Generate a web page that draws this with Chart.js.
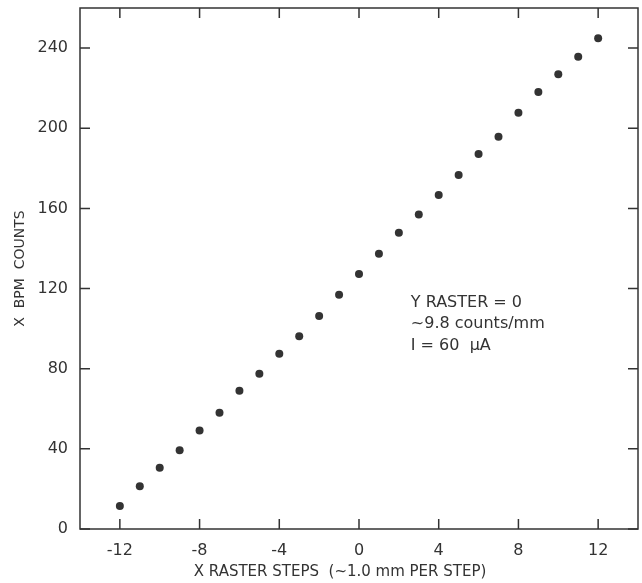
<!DOCTYPE html>
<html>
<head>
<meta charset="utf-8">
<script src="https://cdn.jsdelivr.net/npm/chart.js@4.4.1/dist/chart.umd.min.js"></script>
<style>
  html, body { margin: 0; padding: 0; background: #fff; }
  #wrap { width: 642px; height: 583px; position: relative; }
</style>
</head>
<body>
<div id="wrap"><canvas id="c" width="642" height="583"></canvas></div>
<script>
// ---- data ----
const xSteps = [-12,-11,-10,-9,-8,-7,-6,-5,-4,-3,-2,-1,0,1,2,3,4,5,6,7,8,9,10,11,12];
const bpmCounts = [11.5,21.3,30.6,39.3,49.1,58.0,69.0,77.5,87.5,96.2,106.3,116.9,127.2,137.4,147.9,157.0,166.7,176.6,187.1,195.8,207.7,218.1,227.0,235.7,244.9];
const xTickValues = [-12,-8,-4,0,4,8,12];
const yTickValues = [0,40,80,120,160,200,240];
const annotationLines = ["Y RASTER = 0", "~9.8 counts/mm", "I = 60  \u03BCA"];
const xTitle = "X RASTER STEPS  (~1.0 mm PER STEP)";
const yTitle = "X  BPM  COUNTS";

const INK = '#333333';
const FONT = "'DejaVu Sans', sans-serif";

const frameTicks = {
  id: 'frameTicks',
  afterDraw(chart) {
    const { ctx, chartArea: a, scales } = chart;
    const xs = scales.x, ys = scales.y;
    ctx.save();
    ctx.strokeStyle = INK;
    ctx.lineWidth = 1.5;
    ctx.strokeRect(a.left, a.top, a.right - a.left, a.bottom - a.top);
    const L = 10;
    ctx.beginPath();
    xTickValues.forEach(v => {
      const px = xs.getPixelForValue(v);
      ctx.moveTo(px, a.bottom); ctx.lineTo(px, a.bottom - L);
      ctx.moveTo(px, a.top); ctx.lineTo(px, a.top + L);
    });
    yTickValues.forEach(v => {
      const py = ys.getPixelForValue(v);
      ctx.moveTo(a.left, py); ctx.lineTo(a.left + L, py);
      ctx.moveTo(a.right, py); ctx.lineTo(a.right - L, py);
    });
    ctx.stroke();
    ctx.fillStyle = INK;
    // x axis title (slightly left of centre, as in the original)
    ctx.font = "15px " + FONT;
    ctx.textAlign = 'center';
    ctx.textBaseline = 'middle';
    ctx.fillText(xTitle, xs.getPixelForValue(-0.95), xs.bottom - 11);
    // annotation
    ctx.font = "16px " + FONT;
    ctx.textAlign = 'left';
    const ax = xs.getPixelForValue(2.6);
    const ay = ys.getPixelForValue(113);
    annotationLines.forEach((t, i) => ctx.fillText(t, ax, ay + i * 21.5));
    ctx.restore();
  }
};

new Chart(document.getElementById('c'), {
  type: 'scatter',
  data: {
    datasets: [{
      data: xSteps.map((x, i) => ({ x, y: bpmCounts[i] })),
      backgroundColor: INK,
      borderColor: INK,
      pointRadius: 4,
      pointHoverRadius: 4,
      borderWidth: 0
    }]
  },
  options: {
    responsive: false,
    animation: false,
    events: [],
    layout: { padding: { top: 8, right: 2, left: 0, bottom: 0 } },
    plugins: { legend: { display: false }, tooltip: { enabled: false } },
    scales: {
      x: {
        type: 'linear', min: -14, max: 14,
        grid: { display: false },
        border: { display: false },
        afterBuildTicks: s => { s.ticks = xTickValues.map(v => ({ value: v })); },
        afterFit: s => { s.height = 54; s.paddingLeft = 0; s.paddingRight = 0; },
        ticks: { color: INK, font: { family: FONT, size: 16 }, padding: 4, maxRotation: 0 },
        title: { display: false, text: xTitle }
      },
      y: {
        type: 'linear', min: 0, max: 260,
        grid: { display: false },
        border: { display: false },
        afterBuildTicks: s => { s.ticks = yTickValues.map(v => ({ value: v })); },
        afterFit: s => { s.width = 80; s.paddingTop = 0; s.paddingBottom = 0; },
        ticks: { color: INK, font: { family: FONT, size: 16 }, padding: 4 },
        title: { display: true, text: yTitle, color: INK, font: { family: FONT, size: 14 }, padding: { top: 12, bottom: 0 } }
      }
    }
  },
  plugins: [frameTicks]
});
</script>
</body>
</html>
